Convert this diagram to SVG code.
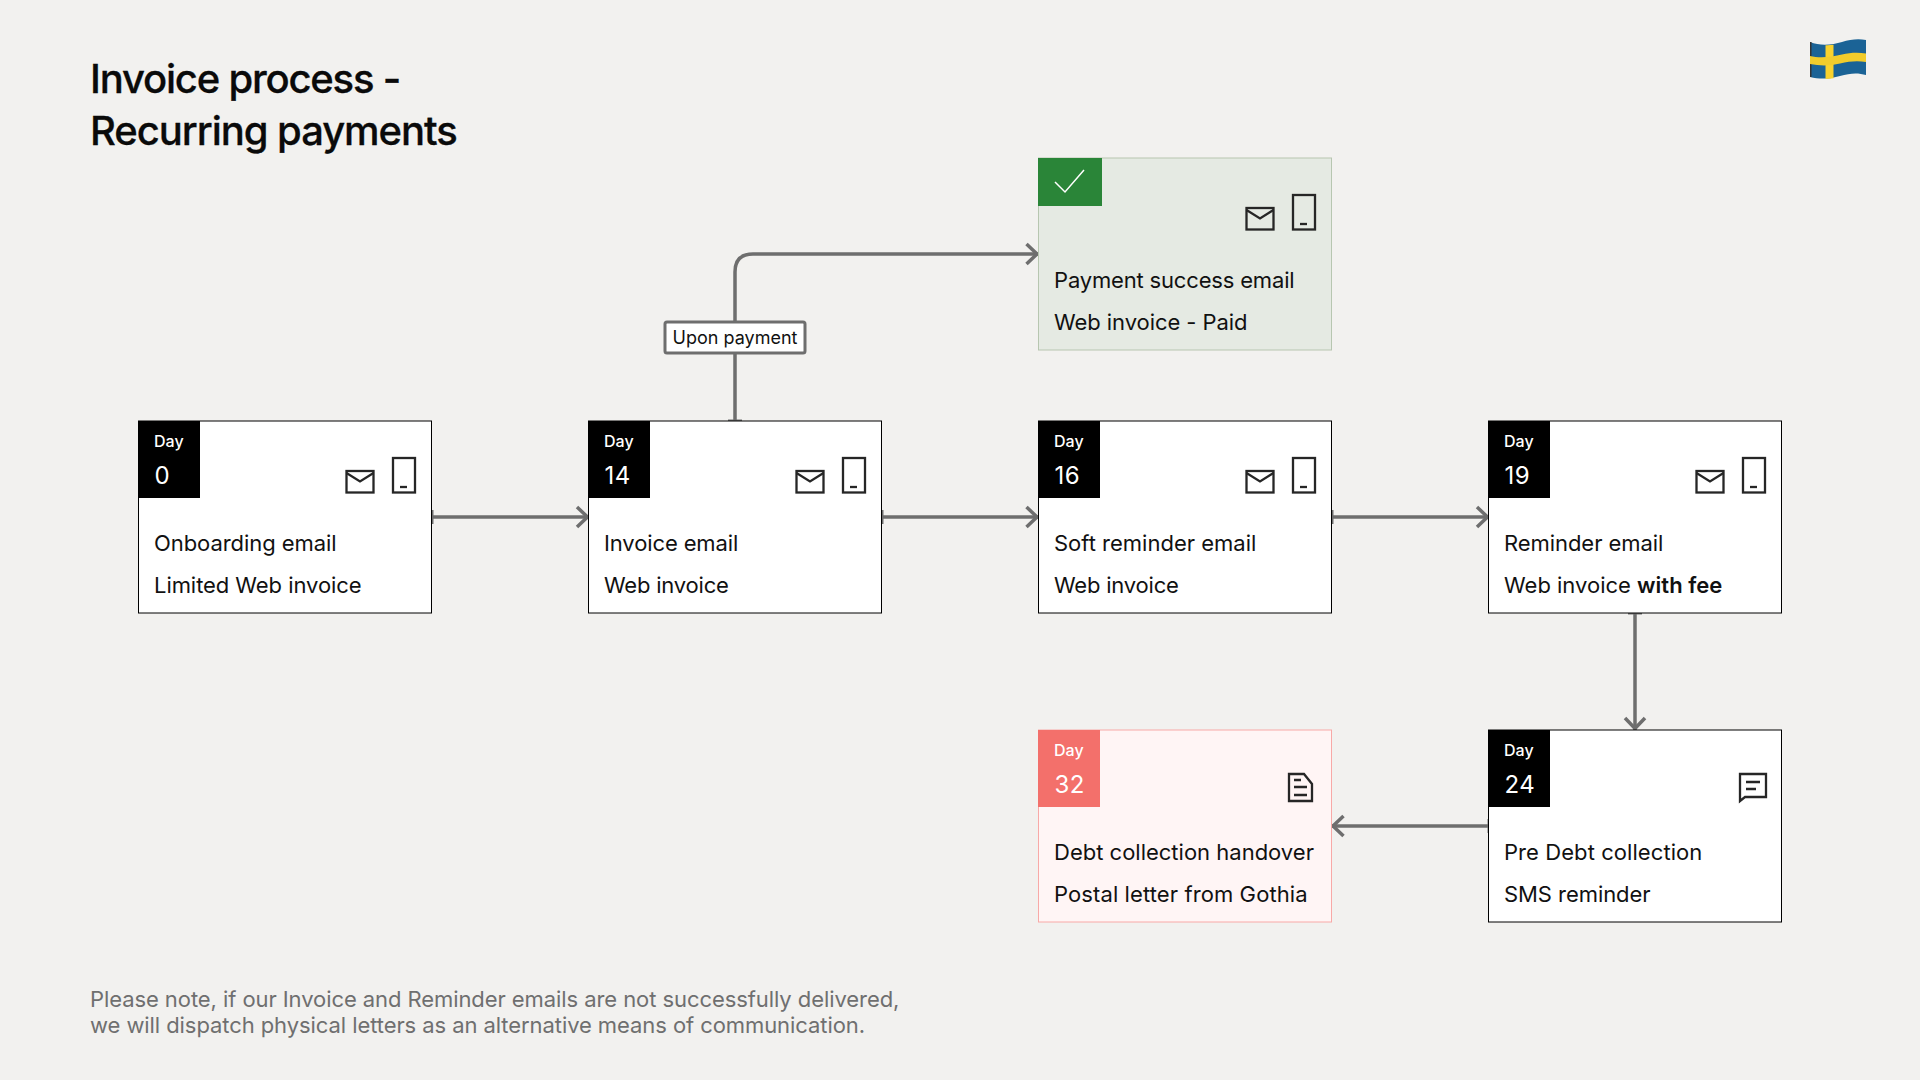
<svg xmlns="http://www.w3.org/2000/svg" width="1920" height="1080" viewBox="0 0 1920 1080">
<style>
text{font-family:Inter,"Noto Sans","Liberation Sans",sans-serif;fill:#111}
.title{font-size:40px;font-weight:500;letter-spacing:-1.15px;fill:#0a0a0a;stroke:#0a0a0a;stroke-width:.3px}
.note{font-size:22px;letter-spacing:-.075px;fill:#6f6f6f}
.body{font-size:22px;letter-spacing:-.06px}
.day{font-size:16px;font-weight:500;fill:#fff}
.num{font-size:24px;letter-spacing:.4px;fill:#fff}
.card{fill:#fff;stroke:#000;stroke-width:1}
.ok{fill:#e5eae3;stroke:#b7c6b0}
.bad{fill:#fff5f5;stroke:#f8a9a7}
.ico{fill:none;stroke:#262626;stroke-width:2.300}
.conn{fill:none;stroke:#6e6e6e;stroke-width:3.500;marker-end:url(#arrow);marker-start:url(#tick)}
</style>
<defs>
<marker id="arrow" markerUnits="userSpaceOnUse" markerWidth="24" markerHeight="28" refX="14" refY="12" orient="auto"><path d="M2 2L12.500 12L2 22" fill="none" stroke="#6e6e6e" stroke-width="3.500"/></marker>
<marker id="tick" markerUnits="userSpaceOnUse" markerWidth="6" markerHeight="20" refX="3" refY="10" orient="auto"><path d="M3 3V17" fill="none" stroke="#6e6e6e" stroke-width="3"/></marker>
<g id="mail"><rect class="ico" x="208.500" y="50" width="27" height="21.500"/><path class="ico" d="M208.500 52L222 60.500L235.500 52"/></g>
<g id="phone"><rect class="ico" x="255" y="37" width="22" height="34.500"/><path class="ico" d="M262 66H269"/></g>
</defs>
<rect width="1920" height="1080" fill="#f2f1ef"/>
<text class="title" x="90" y="93" style="letter-spacing:-1.2px">Invoice process -</text>
<text class="title" x="90" y="145" style="letter-spacing:-1.05px">Recurring payments</text>
<g id="flag">
<path d="M1810 42C1820 46 1832 45 1842 42C1850 39.500 1858 38.500 1866 40V75C1858 72.500 1850 73 1840 76C1830 79 1820 79.500 1810 77Z" fill="#1b6396"/>
<rect x="1810" y="42" width="1.500" height="35" fill="#333"/>
<path d="M1825.500 45.200C1828 45.300 1831 45.200 1833.500 44.800V78.300C1831 78.800 1828 79 1825.500 79Z" fill="#f8d22e"/>
<path d="M1810 56C1820 58.500 1832 57 1842 54.500C1850 52.500 1858 52 1866 53.500V62C1858 60.500 1850 61 1840 63.500C1830 66 1820 66 1810 64Z" fill="#f1cc2c"/>
</g>
<g id="connectors">
<path class="conn" d="M432 517H589"/>
<path class="conn" d="M882 517H1038.500"/>
<path class="conn" d="M1332 517H1489"/>
<path class="conn" d="M1635 613V730"/>
<path class="conn" d="M1489 826H1331.500"/>
<path class="conn" d="M735 421V272Q735 254 753 254H1038.500"/>
</g>
<g id="label-upon-payment"><rect x="665" y="322" width="140" height="31" rx="2" fill="#fff" stroke="#6e6e6e" stroke-width="3"/><text x="735" y="344" text-anchor="middle" font-size="18">Upon payment</text></g>
<g id="node-day0" transform="translate(138 421)"><rect class="card" x=".5" width="293" height="192"/><rect width="62" height="77" fill="#000"/><text class="day" x="16" y="26">Day</text><text class="num" x="16.500" y="63">0</text><use href="#mail"/><use href="#phone"/><text class="body" x="16" y="130">Onboarding email</text><text class="body" x="16" y="172">Limited Web invoice</text></g>
<g id="node-day14" transform="translate(588 421)"><rect class="card" x=".5" width="293" height="192"/><rect width="62" height="77" fill="#000"/><text class="day" x="16" y="26">Day</text><text class="num" x="16.500" y="63">14</text><use href="#mail"/><use href="#phone"/><text class="body" x="16" y="130" style="letter-spacing:-.12px">Invoice email</text><text class="body" x="16" y="172" style="letter-spacing:-.2px">Web invoice</text></g>
<g id="node-day16" transform="translate(1038 421)"><rect class="card" x=".5" width="293" height="192"/><rect width="62" height="77" fill="#000"/><text class="day" x="16" y="26">Day</text><text class="num" x="16.500" y="63">16</text><use href="#mail"/><use href="#phone"/><text class="body" x="16" y="130" style="letter-spacing:0">Soft reminder email</text><text class="body" x="16" y="172" style="letter-spacing:-.2px">Web invoice</text></g>
<g id="node-day19" transform="translate(1488 421)"><rect class="card" x=".5" width="293" height="192"/><rect width="62" height="77" fill="#000"/><text class="day" x="16" y="26">Day</text><text class="num" x="16.500" y="63">19</text><use href="#mail"/><use href="#phone"/><text class="body" x="16" y="130">Reminder email</text><text class="body" x="16" y="172" style="letter-spacing:0">Web invoice <tspan font-weight="600">with fee</tspan></text></g>
<g id="node-paid" transform="translate(1038 158)"><rect class="card ok" x=".5" width="293" height="192"/><rect width="64" height="48" fill="#2a8538"/><path d="M17 24L27 34L46 12" fill="none" stroke="#fff" stroke-width="1.500"/><use href="#mail"/><use href="#phone"/><text class="body" x="16" y="130" style="letter-spacing:-.17px">Payment success email</text><text class="body" x="16" y="172">Web invoice - Paid</text></g>
<g id="node-day32" transform="translate(1038 730)"><rect class="card bad" x=".5" width="293" height="192"/><rect width="62" height="77" fill="#f3706b"/><text class="day" x="16" y="26">Day</text><text class="num" x="16.500" y="63">32</text><path class="ico" d="M251 44H266L274 54V71H251Z"/><path class="ico" d="M256 57H269M256 65H269M256 50H263"/><text class="body" x="16" y="130" style="letter-spacing:0">Debt collection handover</text><text class="body" x="16" y="172" style="letter-spacing:.1px">Postal letter from Gothia</text></g>
<g id="node-day24" transform="translate(1488 730)"><rect class="card" x=".5" width="293" height="192"/><rect width="62" height="77" fill="#000"/><text class="day" x="16" y="26">Day</text><text class="num" x="16.500" y="63">24</text><path class="ico" d="M252 44H278V67H257L252 71Z"/><path class="ico" d="M258 52H272M258 59H268"/><text class="body" x="16" y="130" style="letter-spacing:.07px">Pre Debt collection</text><text class="body" x="16" y="172">SMS reminder</text></g>
<text class="note" x="90" y="1007">Please note, if our Invoice and Reminder emails are not successfully delivered,</text>
<text class="note" x="90" y="1033">we will dispatch physical letters as an alternative means of communication.</text>
</svg>
